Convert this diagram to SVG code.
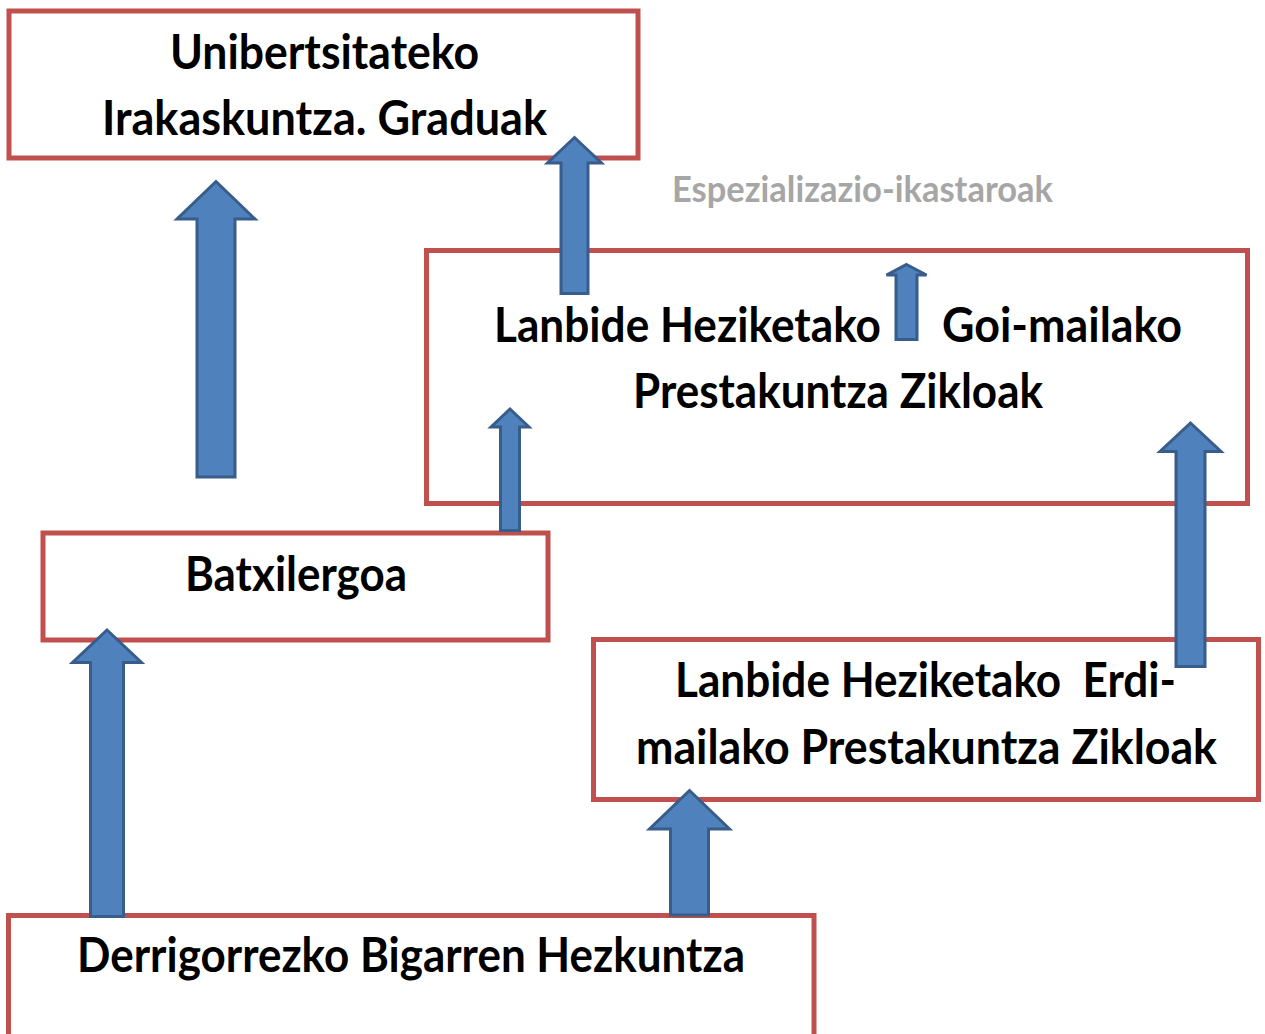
<svg xmlns="http://www.w3.org/2000/svg" width="1265" height="1034" viewBox="0 0 1265 1034">
  <style>
    .box { fill: #ffffff; stroke: #c0504d; stroke-width: 5; }
    .lbl { font-family: "Lato", "Liberation Sans", sans-serif; font-weight: bold; font-size: 48px; fill: #000000; }
    .note { font-family: "Lato", "Liberation Sans", sans-serif; font-weight: bold; font-size: 37px; fill: #a6a6a6; }
    .arrow { fill: #4f81bd; stroke: #385d8a; stroke-width: 3; stroke-linejoin: miter; }
  </style>
  <rect x="0" y="0" width="1265" height="1034" fill="#ffffff"/>

  <g id="node-unibertsitatea">
    <rect class="box" x="9" y="11" width="629" height="147"/>
    <text class="lbl" x="170" y="69" textLength="309" lengthAdjust="spacingAndGlyphs">Unibertsitateko</text>
    <text class="lbl" x="102" y="135" textLength="445" lengthAdjust="spacingAndGlyphs">Irakaskuntza. Graduak</text>
  </g>

  <g id="node-espezializazioa">
    <text class="note" x="672" y="202" textLength="381" lengthAdjust="spacingAndGlyphs">Espezializazio-ikastaroak</text>
  </g>

  <g id="node-goi-mailako">
    <rect class="box" x="426.5" y="250.5" width="821" height="253"/>
    <text class="lbl" x="494" y="342" textLength="387" lengthAdjust="spacingAndGlyphs">Lanbide Heziketako</text>
    <text class="lbl" x="942" y="342" textLength="240" lengthAdjust="spacingAndGlyphs">Goi-mailako</text>
    <text class="lbl" x="633" y="408" textLength="410" lengthAdjust="spacingAndGlyphs">Prestakuntza Zikloak</text>
  </g>

  <g id="node-batxilergoa">
    <rect class="box" x="43" y="533" width="505" height="107"/>
    <text class="lbl" x="185" y="591" textLength="222" lengthAdjust="spacingAndGlyphs">Batxilergoa</text>
  </g>

  <g id="node-erdi-mailako">
    <rect class="box" x="593.5" y="639.5" width="665" height="160"/>
    <text class="lbl" x="675" y="697" textLength="501" lengthAdjust="spacingAndGlyphs" xml:space="preserve">Lanbide Heziketako  Erdi-</text>
    <text class="lbl" x="636" y="764" textLength="581" lengthAdjust="spacingAndGlyphs">mailako Prestakuntza Zikloak</text>
  </g>

  <g id="node-dbh">
    <rect class="box" x="8.5" y="915.5" width="805.5" height="140"/>
    <text class="lbl" x="77" y="972" textLength="668" lengthAdjust="spacingAndGlyphs">Derrigorrezko Bigarren Hezkuntza</text>
  </g>

  <g id="connectors">
    <!-- Batxilergoa -> Unibertsitatea -->
    <path class="arrow" d="M216,181.5 L255,219 L235,219 L235,477 L197,477 L197,219 L177,219 Z"/>
    <!-- Goi-mailako -> Unibertsitatea -->
    <path class="arrow" d="M574.5,137.5 L601.5,163 L588,163 L588,293.5 L561,293.5 L561,163 L547.5,163 Z"/>
    <!-- Goi-mailako -> Espezializazio-ikastaroak -->
    <path class="arrow" d="M906.5,264.5 L926.5,275 L917,275 L917,339.5 L896,339.5 L896,275 L886.5,275 Z"/>
    <!-- Batxilergoa -> Goi-mailako -->
    <path class="arrow" d="M510,409 L529,427 L519.5,427 L519.5,530.5 L500.5,530.5 L500.5,427 L491,427 Z"/>
    <!-- DBH -> Batxilergoa -->
    <path class="arrow" d="M107,630 L141.5,662.5 L123.5,662.5 L123.5,916.5 L90.5,916.5 L90.5,662.5 L72.5,662.5 Z"/>
    <!-- Erdi-mailako -> Goi-mailako -->
    <path class="arrow" d="M1190.5,423 L1221,451.5 L1205,451.5 L1205,666.5 L1176,666.5 L1176,451.5 L1160,451.5 Z"/>
    <!-- DBH -> Erdi-mailako -->
    <path class="arrow" d="M689.5,790.5 L729.5,829 L708.5,829 L708.5,915 L670.5,915 L670.5,829 L649.5,829 Z"/>
  </g>
</svg>
